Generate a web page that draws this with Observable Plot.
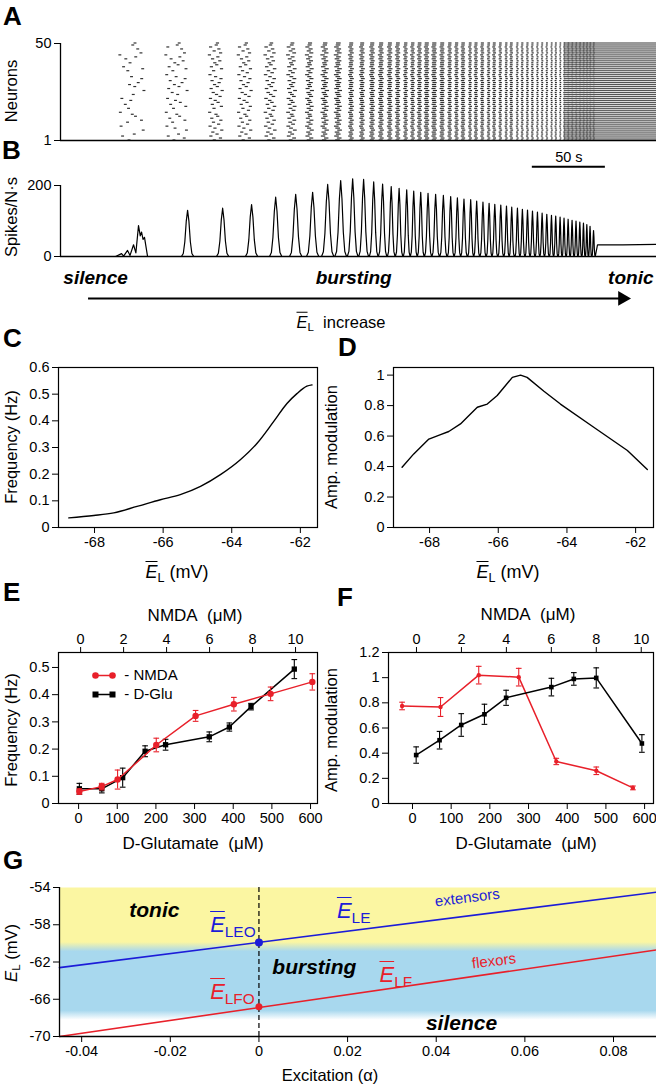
<!DOCTYPE html>
<html><head><meta charset="utf-8">
<script src="https://cdn.jsdelivr.net/npm/d3@7"></script>
<script src="https://cdn.jsdelivr.net/npm/@observablehq/plot@0.6"></script>
<style>
body{margin:0;background:#fff;}
#fig{position:relative;width:656px;height:1086px;overflow:hidden;font-family:"Liberation Sans",Arial,Helvetica,sans-serif;color:#000;background:#fff;}
.lbl{position:absolute;white-space:nowrap;line-height:1;}
.letter{position:absolute;font-weight:bold;font-size:26px;line-height:1.1;}
.eb{font-style:italic;text-decoration:overline;text-decoration-thickness:1.4px;}
.ei{font-style:italic;}
sub{font-size:0.7em;vertical-align:-0.3em;font-style:normal;line-height:0;}
</style></head>
<body><div id="fig"></div>
<script>
// ---------------- DATA ----------------
// Panel A/B : time axis (s)
const timeMax = 408;
const burstTime = [57.5, 87.0, 111.0, 130.8, 147.3, 161.0, 172.6, 182.9, 191.8, 200.0, 207.5, 214.4, 220.5, 226.4, 231.8, 237.0, 241.8, 246.6, 251.6, 256.8, 262.1, 267.1, 271.7, 276.2, 280.8, 284.9, 289.2, 293.4, 297.3, 301.4, 305.3, 308.9, 312.8, 316.2, 319.7, 323.1, 326.5, 329.7, 332.9, 336.1, 339.0, 342.0, 344.7, 347.5, 350.2, 352.9, 355.5, 358.0, 360.3, 362.5, 364.9];
const burstPeak = [null, 130, 136, 146, 167, 175, 181, 203, 214, 219, 217, 210, 204, 197, 192, 188, 184, 181, 178, 175, 172, 169, 165, 162, 160, 156, 153, 150, 147, 145, 142, 139, 136, 133, 131, 128, 125, 122, 119, 116, 114, 111, 108, 105, 102, 100, 97, 94, 90, 85, 73];
const burstSpread = [17, 15, 9, 9, 7, 5, 3.5, 3, 2.5, 1.5, 1.5, 1.4, 1.4, 1.3, 1.3, 1.2, 1.2, 1.2, 1.1, 1.1, 1.0, 1.0, 1.0, 0.9, 0.9, 0.9, 0.8, 0.8, 0.8, 0.8, 0.7, 0.7, 0.7, 0.7, 0.6, 0.6, 0.6, 0.6, 0.6, 0.5, 0.5, 0.5, 0.5, 0.5, 0.5, 0.5, 0.5, 0.5, 0.5, 0.5, 0.5];
const burstDash = [2, 2, 2.2, 2.2, 2.4, 2.6, 2.8, 3, 3.2, 2.7, 2.7, 2.8, 2.8, 2.7, 2.6, 2.3, 2.3, 2.5, 2.8, 2.9, 2.7, 2.3, 2.2, 2.4, 1.9, 2.1, 2.1, 1.8, 2.0, 1.8, 1.6, 1.9, 1.4, 1.5, 1.5, 1.5, 1.3, 1.3, 1.3, 1.2, 1.3, 1.1, 1.1, 1.1, 1.1, 1.1, 1.1, 1.1, 1.1, 1.1, 1.1];
const burstFrac = [0.6, 0.85, 0.95];
const firstClusterT = [37.7, 41.8, 43.2, 45.9, 47.6, 50.0, 51.6, 53.4, 54.6, 55.5, 56.5, 57.5, 59.6];
const firstClusterV = [0, 8, 1, 17, 3, 33, 10, 87, 58, 69, 48, 54, 0];
const tonicT = [367.6, 385, 408];
const tonicV = [33, 33, 34];
const tonicStart = 345;
const neuronLag = [0.62,0.15,0.88,0.41,0.73,0.05,0.57,0.94,0.29,0.68,0.12,0.81,0.36,0.49,0.97,0.22,0.64,0.08,0.77,0.33,0.55,0.91,0.18,0.45,0.70,0.02,0.86,0.39,0.60,0.25,0.79,0.11,0.52,0.95,0.31,0.67,0.07,0.84,0.43,0.58,0.20,0.75,0.35,0.99,0.14,0.63,0.27,0.90,0.47,0.38];
const neuronExcit = [0.31,0.72,0.55,0.12,0.88,0.43,0.67,0.05,0.94,0.26,0.59,0.81,0.17,0.48,0.36,0.99,0.22,0.63,0.08,0.75,0.52,0.33,0.91,0.14,0.69,0.40,0.85,0.03,0.57,0.29,0.78,0.46,0.11,0.64,0.96,0.20,0.53,0.37,0.83,0.09,0.71,0.27,0.60,0.44,0.18,0.92,0.35,0.66,0.01,0.50];
const neuronTicks = [1, 50];
const spikeTicks = [0, 200];
const scaleBar = {start: 323, len: 50, y: 253, textY: 279, label: "50 s"};
const stateB = [{t: 24, label: "silence"}, {t: 200.7, label: "bursting"}, {t: 390.4, label: "tonic"}];
const stateBY = -59;
const arrowB = {x1: 19.2, x2: 387.7, y: -118};

// Panel C
const cEL = [-68.75, -68.02, -67.44, -66.76, -66.08, -65.5, -64.91, -64.33, -63.75, -63.26, -62.78, -62.39, -62.1, -61.81, -61.66];
const cFreq = [0.036, 0.045, 0.055, 0.079, 0.104, 0.123, 0.154, 0.198, 0.254, 0.316, 0.397, 0.465, 0.502, 0.53, 0.535];
const elTicks = [-68, -66, -64, -62];
const cYTicks = [0, 0.1, 0.2, 0.3, 0.4, 0.5, 0.6];
// Panel D
const dEL = [-68.8, -68.46, -68.02, -67.68, -67.44, -67.1, -66.86, -66.61, -66.32, -66.03, -65.59, -65.35, -65.16, -64.67, -64.19, -63.22, -62.24, -61.66];
const dAmp = [0.395, 0.483, 0.58, 0.61, 0.63, 0.68, 0.734, 0.789, 0.81, 0.866, 0.985, 1.0, 0.985, 0.894, 0.81, 0.658, 0.505, 0.38];
const dYTicks = [0, 0.2, 0.4, 0.6, 0.8, 1];

// Panel E
const eNmdaConc = [-0.06, 0.98, 1.72, 3.52, 5.35, 7.13, 8.84, 10.78];
const eNmdaFreq = [0.044, 0.062, 0.088, 0.215, 0.322, 0.365, 0.403, 0.447];
const eNmdaErr  = [0.01, 0.012, 0.035, 0.025, 0.02, 0.025, 0.025, 0.03];
const eGluConc = [2, 60, 114, 172, 225, 338, 390, 446, 558];
const eGluFreq = [0.054, 0.054, 0.095, 0.192, 0.216, 0.245, 0.281, 0.356, 0.494];
const eGluErr  = [0.02, 0.015, 0.035, 0.02, 0.02, 0.018, 0.015, 0.012, 0.035];
const eNmdaAxis = {offset: 5.2, scale: 55.6};
const eYTicks = [0, 0.1, 0.2, 0.3, 0.4, 0.5];
// Panel F
const fNmdaConc = [-0.64, 1.07, 2.77, 4.55, 6.22, 8.0, 9.63];
const fNmdaAmp  = [0.775, 0.767, 1.02, 1.004, 0.334, 0.26, 0.124];
const fNmdaErr  = [0.03, 0.075, 0.07, 0.07, 0.025, 0.03, 0.015];
const fGluConc = [9.5, 70, 126, 186, 242, 359, 417, 475, 593];
const fGluAmp  = [0.385, 0.503, 0.624, 0.709, 0.84, 0.925, 0.99, 0.998, 0.477];
const fGluErr  = [0.065, 0.07, 0.09, 0.08, 0.06, 0.07, 0.05, 0.08, 0.07];
const fNmdaAxis = {offset: 10.3, scale: 58.1};
const fYTicks = [0, 0.2, 0.4, 0.6, 0.8, 1, 1.2];
const nmdaTicks = [0, 2, 4, 6, 8, 10];
const gluTicks = [0, 100, 200, 300, 400, 500, 600];

// Panel G
const alphaEnds = [-0.045, 0.0897];
const extensorEL = [-62.6, -54.5];
const flexorEL = [-70, -60.7];
const ELEO = -59.9, ELFO = -66.8;
const bandEdges = {tonicBurst: -60.35, burstSilence: -67.7, halfWidth: 0.5};
const gXTicks = [-0.04, -0.02, 0, 0.02, 0.04, 0.06, 0.08];
const gYTicks = [-54, -58, -62, -66, -70];
const stateG = [{a: -0.0236, e: -56.4, label: "tonic"}, {a: 0.0125, e: -62.6, label: "bursting"}, {a: 0.0457, e: -68.6, label: "silence"}];

// ---------------- STYLE ----------------
const FONT = '"Liberation Sans", Arial, Helvetica, sans-serif';
const RED = "#e8202a", BLUE = "#1c1cd8", BLACK = "#000";
const YELLOW = "#fbf6a2", SKY = "#a8d8ee";
const base = {fontFamily: FONT, fontSize: "14.5px", color: "#000", background: "transparent", overflow: "visible"};
const fig = document.getElementById("fig");
function place(el, left, top){ const d = document.createElement("div"); d.style.position="absolute"; d.style.left=left+"px"; d.style.top=top+"px"; d.appendChild(el); fig.appendChild(d); return el; }
function label(h, x, y, css){ const d = document.createElement("div"); d.className="lbl"; d.innerHTML=h; d.style.left=x+"px"; d.style.top=y+"px"; d.style.cssText += ";" + (css||""); fig.appendChild(d); return d; }
const C = "transform:translate(-50%,-50%);";
const R = "transform:translate(-50%,-50%) rotate(-90deg);";
const ax = (o) => Object.assign({tickSize: 6, tickPadding: 3, label: null, tickFormat: d => String(d), fontSize: 14.5}, o);
const EL = '<span class="eb">E</span><sub>L</sub>';

// ---------------- PANEL A ----------------
const raster = [];
burstTime.forEach((t, k) => {
  const frac = k < burstFrac.length ? burstFrac[k] : 1;
  for (let n = 1; n <= 50; n++) {
    if (neuronExcit[n-1] > frac) continue;
    const end = t + 1.3 - burstSpread[k] * neuronLag[n-1];
    raster.push({x1: end - burstDash[k], x2: end, n});
  }
});
const neuronIds = d3.range(1, 51);
const plotA = Plot.plot({
  width: 656, height: 150, marginLeft: 60, marginRight: 0, marginTop: 43, marginBottom: 10,
  x: {domain: [0, timeMax], axis: null}, y: {domain: [1, 50]}, style: base,
  marks: [
    Plot.rect(raster, {x1: "x1", x2: "x2", y1: d => d.n - 0.3, y2: d => d.n + 0.3, fill: "#303030"}),
    Plot.rect(neuronIds, {x1: tonicStart, x2: timeMax, y1: d => d - 0.3, y2: d => d + 0.3, fill: "#555"}),
    Plot.ruleY([1], {strokeWidth: 1.3}),
    Plot.ruleX([0], {y1: 1, y2: 50, strokeWidth: 1.3}),
    Plot.axisY(ax({ticks: neuronTicks}))
  ]
});
place(plotA, 0, 0);

// ---------------- PANEL B ----------------
const trace = firstClusterT.map((t, i) => ({t, v: firstClusterV[i]}));
const shapeDx = [-1, -0.7, -0.45, -0.22, 0, 0.22, 0.45, 0.7, 1];
const shapeDy = [0, 0.066, 0.32, 0.76, 1, 0.76, 0.32, 0.066, 0];
for (let k = 1; k < burstTime.length; k++) {
  const t = burstTime[k];
  const gp = t - burstTime[k-1];
  const gn = k + 1 < burstTime.length ? burstTime[k+1] - t : 4;
  const h = Math.min(4.2, 0.49 * gp, 0.49 * gn);
  shapeDx.forEach((dx, j) => trace.push({t: t + dx * h, v: burstPeak[k] * shapeDy[j]}));
}
tonicT.forEach((t, i) => trace.push({t, v: tonicV[i]}));
const plotB = Plot.plot({
  width: 656, height: 190, marginLeft: 60, marginRight: 0, marginTop: 40, marginBottom: 79,
  x: {domain: [0, timeMax], axis: null}, y: {domain: [0, 200]}, style: base,
  marks: [
    Plot.line(trace, {x: "t", y: "v", strokeWidth: 1.2}),
    Plot.ruleY([0], {strokeWidth: 1.3}),
    Plot.ruleX([0], {y1: 0, y2: 200, strokeWidth: 1.3}),
    Plot.axisY(ax({ticks: spikeTicks})),
    Plot.ruleY([scaleBar.y], {x1: scaleBar.start, x2: scaleBar.start + scaleBar.len, strokeWidth: 2}),
    Plot.text([scaleBar.label], {x: scaleBar.start + scaleBar.len / 2, y: scaleBar.textY, fontSize: 14.5}),
    Plot.text(stateB, {x: "t", y: stateBY, text: "label", fontWeight: "bold", fontStyle: "italic", fontSize: 19}),
    Plot.ruleY([arrowB.y], {x1: arrowB.x1, x2: arrowB.x2 - 4, strokeWidth: 2}),
    Plot.dot([arrowB], {x: d => d.x2 - 3, y: "y", symbol: "triangle", rotate: 90, r: 5.5, fill: "#000", stroke: "none"})
  ]
});
place(plotB, 0, 145);

// ---------------- PANEL C ----------------
const plotC = Plot.plot({
  width: 330, height: 200, marginLeft: 58, marginRight: 13, marginTop: 12, marginBottom: 28,
  x: {domain: [-69.05, -61.5]}, y: {domain: [0, 0.6]}, style: base,
  marks: [
    Plot.frame({strokeWidth: 1.2}),
    Plot.line(cEL.map((v, i) => ({v, f: cFreq[i]})), {x: "v", y: "f", curve: "monotone-x", strokeWidth: 1.4}),
    Plot.axisX(ax({ticks: elTicks})),
    Plot.axisY(ax({ticks: cYTicks}))
  ]
});
place(plotC, 0, 355);

// ---------------- PANEL D ----------------
const plotD = Plot.plot({
  width: 326, height: 200, marginLeft: 63, marginRight: 3, marginTop: 12, marginBottom: 28,
  x: {domain: [-69.05, -61.48]}, y: {domain: [0, 1.05]}, style: base,
  marks: [
    Plot.frame({strokeWidth: 1.2}),
    Plot.line(dEL.map((v, i) => ({v, a: dAmp[i]})), {x: "v", y: "a", strokeWidth: 1.4}),
    Plot.axisX(ax({ticks: elTicks})),
    Plot.axisY(ax({ticks: dYTicks}))
  ]
});
place(plotD, 330, 355);

// ---------------- PANELS E/F ----------------
const capSymbol = {draw(ctx, size) { const w = Math.sqrt(size) / 2; ctx.moveTo(-w, 0); ctx.lineTo(w, 0); }};
function series(data, color, symbol, r) {
  return [
    Plot.line(data, {x: "x", y: "y", stroke: color, strokeWidth: 1.5}),
    Plot.ruleX(data, {x: "x", y1: d => d.y - d.e, y2: d => d.y + d.e, stroke: color, strokeWidth: 1.1}),
    Plot.dot(data, {x: "x", y: d => d.y - d.e, symbol: capSymbol, r: 3.2, fill: "none", stroke: color, strokeWidth: 1.1}),
    Plot.dot(data, {x: "x", y: d => d.y + d.e, symbol: capSymbol, r: 3.2, fill: "none", stroke: color, strokeWidth: 1.1}),
    Plot.dot(data, {x: "x", y: "y", symbol, r, fill: color, stroke: "none"})
  ];
}
const eRed = eNmdaConc.map((c, i) => ({x: eNmdaAxis.offset + c * eNmdaAxis.scale, y: eNmdaFreq[i], e: eNmdaErr[i]}));
const eBlack = eGluConc.map((c, i) => ({x: c, y: eGluFreq[i], e: eGluErr[i]}));
const plotE = Plot.plot({
  width: 330, height: 235, marginLeft: 58, marginRight: 13, marginTop: 52, marginBottom: 32,
  x: {domain: [-52, 618]}, y: {domain: [0, 0.555]}, style: base,
  marks: [
    Plot.frame({strokeWidth: 1.2}),
    ...series(eBlack, BLACK, "square", 3),
    ...series(eRed, RED, "circle", 3.2),
    Plot.axisX(ax({ticks: gluTicks})),
    Plot.axisX(ax({anchor: "top", ticks: nmdaTicks.map(n => eNmdaAxis.offset + n * eNmdaAxis.scale), tickFormat: d => String(Math.round((d - eNmdaAxis.offset) / eNmdaAxis.scale))})),
    Plot.axisY(ax({ticks: eYTicks}))
  ]
});
place(plotE, 0, 600);

const fRed = fNmdaConc.map((c, i) => ({x: fNmdaAxis.offset + c * fNmdaAxis.scale, y: fNmdaAmp[i], e: fNmdaErr[i]}));
const fBlack = fGluConc.map((c, i) => ({x: c, y: fGluAmp[i], e: fGluErr[i]}));
const plotF = Plot.plot({
  width: 326, height: 235, marginLeft: 58, marginRight: 3, marginTop: 52, marginBottom: 32,
  x: {domain: [-62, 623]}, y: {domain: [0, 1.2]}, style: base,
  marks: [
    Plot.frame({strokeWidth: 1.2}),
    ...series(fRed, RED, "circle", 2.2),
    ...series(fBlack, BLACK, "square", 2.6),
    Plot.axisX(ax({ticks: gluTicks})),
    Plot.axisX(ax({anchor: "top", ticks: nmdaTicks.map(n => fNmdaAxis.offset + n * fNmdaAxis.scale), tickFormat: d => String(Math.round((d - fNmdaAxis.offset) / fNmdaAxis.scale))})),
    Plot.axisY(ax({ticks: fYTicks}))
  ]
});
place(plotF, 330, 600);

// ---------------- PANEL G ----------------
const gDom = [-70, -54];
const off = v => (gDom[1] - v) / (gDom[1] - gDom[0]);
const gStops = [
  [0, YELLOW],
  [off(bandEdges.tonicBurst + bandEdges.halfWidth), YELLOW],
  [off(bandEdges.tonicBurst - bandEdges.halfWidth), SKY],
  [off(bandEdges.burstSilence + bandEdges.halfWidth), SKY],
  [off(bandEdges.burstSilence - bandEdges.halfWidth), "#ffffff"],
  [1, "#ffffff"]
];
function gradientDefs(id, stops) {
  return () => {
    const ns = "http://www.w3.org/2000/svg";
    const defs = document.createElementNS(ns, "defs");
    const g = document.createElementNS(ns, "linearGradient");
    g.setAttribute("id", id); g.setAttribute("x1", "0"); g.setAttribute("y1", "0"); g.setAttribute("x2", "0"); g.setAttribute("y2", "1");
    for (const [o, c] of stops) { const s = document.createElementNS(ns, "stop"); s.setAttribute("offset", o); s.setAttribute("stop-color", c); g.appendChild(s); }
    defs.appendChild(g);
    return defs;
  };
}
const plotG = Plot.plot({
  width: 656, height: 216, marginLeft: 59, marginRight: 0, marginTop: 17, marginBottom: 50,
  x: {domain: [-0.045, 0.0897]}, y: {domain: gDom}, style: base,
  marks: [
    gradientDefs("gband", gStops),
    Plot.frame({fill: "url(#gband)", stroke: "none"}),
    Plot.ruleX([0], {stroke: "#000", strokeDasharray: "5,3", strokeWidth: 1.2}),
    Plot.line(alphaEnds.map((a, i) => ({a, e: extensorEL[i]})), {x: "a", y: "e", stroke: BLUE, strokeWidth: 1.6}),
    Plot.line(alphaEnds.map((a, i) => ({a, e: flexorEL[i]})), {x: "a", y: "e", stroke: RED, strokeWidth: 1.6}),
    Plot.dot([{a: 0, e: ELEO}], {x: "a", y: "e", r: 4, fill: BLUE, stroke: "none"}),
    Plot.dot([{a: 0, e: ELFO}], {x: "a", y: "e", r: 3.5, fill: RED, stroke: "none"}),
    Plot.ruleX([alphaEnds[0]], {strokeWidth: 1.3}),
    Plot.ruleY([gDom[0]], {strokeWidth: 1.3}),
    Plot.axisY(ax({ticks: gYTicks})),
    Plot.axisX(ax({ticks: gXTicks})),
    Plot.text(stateG, {x: "a", y: "e", text: "label", fontWeight: "bold", fontStyle: "italic", fontSize: 21}),
    Plot.text([{a: 0.047, e: -55.1}], {x: "a", y: "e", text: () => "extensors", rotate: -7, fill: BLUE, fontSize: 15}),
    Plot.text([{a: 0.053, e: -61.9}], {x: "a", y: "e", text: () => "flexors", rotate: -7, fill: RED, fontSize: 15})
  ]
});
place(plotG, 0, 870);
const gsx = plotG.scale("x"), gsy = plotG.scale("y");
const gLab = (html, a, e, color) => label(html, gsx.apply(a), 870 + gsy.apply(e), `transform:translate(0,-50%);font-size:22px;color:${color};`);
gLab('<span class="eb">E</span><sub>LEO</sub>', -0.0109, -58.07, BLUE);
gLab('<span class="eb">E</span><sub>LE</sub>', 0.0177, -56.57, BLUE);
gLab('<span class="eb">E</span><sub>LFO</sub>', -0.0109, -65.25, RED);
gLab('<span class="eb">E</span><sub>LF</sub>', 0.0273, -63.4, RED);

// ---------------- LABELS ----------------
const letters = [["A", 3, 2], ["B", 2, 136], ["C", 3, 324], ["D", 338, 333], ["E", 3, 578], ["F", 337, 583], ["G", 3, 846]];
letters.forEach(([t, x, y]) => { const d = document.createElement("div"); d.className = "letter"; d.textContent = t; d.style.left = x + "px"; d.style.top = y + "px"; fig.appendChild(d); });

const T = "font-size:16.5px;";
label("Neurons", 11, 91, R + T);
label("Spikes/N·s", 11, 217, R + T);
label(EL + "&nbsp; increase", 341, 322, C + T);
label("Frequency (Hz)", 11, 447, R + T);
label("Amp. modulation", 331, 447, R + T);
label(EL + " (mV)", 177, 572, C + "font-size:18px;");
label(EL + " (mV)", 508, 572, C + "font-size:18px;");
label("NMDA&nbsp; (μM)", 195, 615, C + "font-size:17px;");
label("NMDA&nbsp; (μM)", 528, 614, C + "font-size:17px;");
label("D-Glutamate&nbsp; (μM)", 193, 843, C + "font-size:17px;");
label("D-Glutamate&nbsp; (μM)", 526, 843, C + "font-size:17px;");
label("Frequency (Hz)", 11, 730, R + T);
label("Amp. modulation", 331, 730, R + T);
label('<span class="ei">E</span><sub>L</sub> (mV)', 11, 953, R + T);
label("Excitation (α)", 330, 1075, C + T);

// legend in E
function swatch(color, shape) {
  const m = shape === "circle"
    ? `<circle cx="3.5" cy="5" r="3.3" fill="${color}"/><circle cx="20.5" cy="5" r="3.3" fill="${color}"/>`
    : `<rect x="0.5" y="2" width="6" height="6" fill="${color}"/><rect x="17.5" y="2" width="6" height="6" fill="${color}"/>`;
  return `<svg width="24" height="10" style="vertical-align:middle"><line x1="3" x2="21" y1="5" y2="5" stroke="${color}" stroke-width="1.6"/>${m}</svg>`;
}
label(swatch(RED, "circle") + "&nbsp; - NMDA", 92, 674, "transform:translate(0,-50%);font-size:15px;");
label(swatch(BLACK, "square") + "&nbsp; - D-Glu", 92, 693, "transform:translate(0,-50%);font-size:15px;");
</script></body></html>
